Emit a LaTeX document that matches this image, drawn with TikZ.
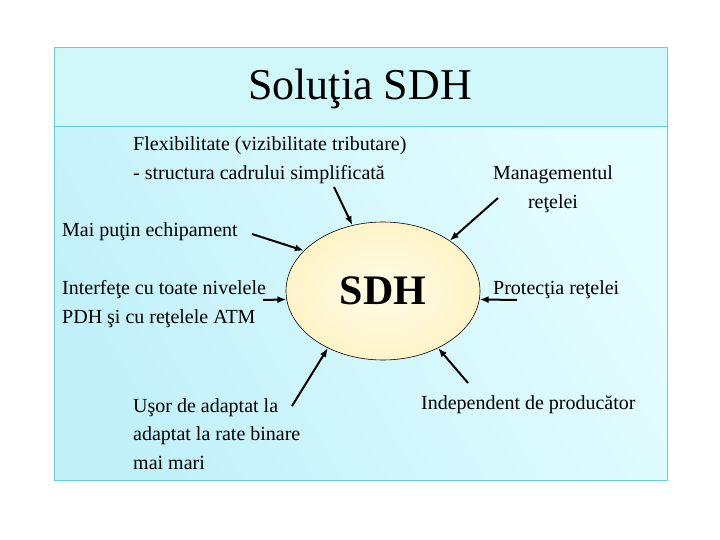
\documentclass[tikz,border=0pt]{standalone}
\usepackage{fontspec}
\setmainfont{Liberation Serif}
\usetikzlibrary{shapes.geometric,arrows.meta}
\definecolor{panelcyan}{RGB}{194,241,250}
\definecolor{panellight}{RGB}{228,253,255}
\definecolor{titlecyan}{RGB}{208,248,251}
\definecolor{framecyan}{RGB}{102,206,214}
\definecolor{eggcream}{RGB}{255,251,222}
\definecolor{eggedge}{RGB}{255,244,200}

\begin{document}
\begin{tikzpicture}[x=1pt,y=-1pt,
    txt/.style={inner sep=0pt, font=\fontsize{20}{28.5}\selectfont},
    feed/.style={line width=2pt, -{Latex[length=9pt,width=7pt]}}]
\useasboundingbox (0,0) rectangle (720,540);
% panel
\shade[left color=panelcyan, right color=panellight, shading angle=120] (54,127) rectangle (667,480);
\fill[titlecyan] (54,48) rectangle (667,127);
\draw[framecyan, line width=1pt] (54,48) rectangle (667,480);
\draw[framecyan, line width=1pt] (54,127) -- (667,127);
\node[inner sep=0pt, font=\fontsize{44}{44}\selectfont] (title) at (360,89) {Soluţia SDH};

% centre
\node[draw, ellipse, inner sep=0pt, minimum width=194pt, minimum height=138pt,
      inner color=eggcream!70!white, outer color=eggedge, line width=0.6pt,
      font=\fontsize{42}{42}\selectfont\bfseries] (sdh) at (383,291) {SDH};

% texts
\node[txt, anchor=west, align=left] (flex) at (133,160) {Flexibilitate (vizibilitate tributare)\\- structura cadrului simplificată};
\node[txt, align=center] (mgmt) at (553,189) {Managementul\\reţelei};
\node[txt, anchor=west] (echip) at (62,232) {Mai puţin echipament};
\node[txt, anchor=west, align=left] (intf) at (62,304) {Interfeţe cu toate nivelele\\PDH şi cu reţelele ATM};
\node[txt, anchor=west] (prot) at (493,290) {Protecţia reţelei};
\node[txt, anchor=west, align=left] (adapt) at (133,434) {Uşor de adaptat la\\adaptat la rate binare\\mai mari};
\node[txt, anchor=west] (indep) at (421,405) {Independent de producător};

% arrow tails
\coordinate (t1) at (334,187);
\coordinate (t2) at (498,198);
\coordinate (t3) at (252,234);
\coordinate (t4) at (263,300);
\coordinate (t5) at (517,300);
\coordinate (t6) at (292,406);
\coordinate (t7) at (468,383);

\draw[feed] (t1) -- (sdh.115);
\draw[feed] (t2) -- (sdh.37);
\draw[feed] (t3) -- (sdh.153);
\draw[feed] (t4) -- (sdh.185);
\draw[feed] (t5) -- (sdh.-5);
\draw[feed] (t6) -- (sdh.226);
\draw[feed] (t7) -- (sdh.-46);
\end{tikzpicture}
\end{document}
